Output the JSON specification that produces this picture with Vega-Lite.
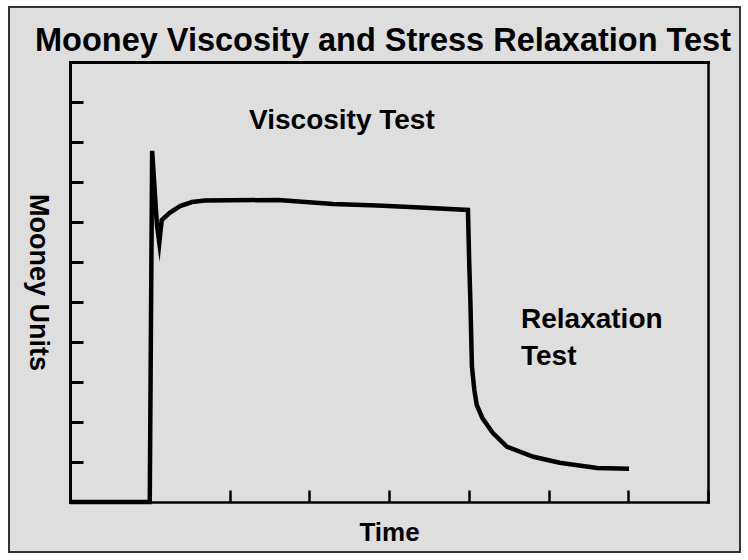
{
  "$schema": "https://vega.github.io/schema/vega-lite/v6.json",
  "width": 731,
  "height": 545,
  "autosize": {"type": "none"},
  "padding": {"left": 9, "top": 7, "right": 8, "bottom": 8},
  "background": "white",
  "view": {"fill": "#dedede", "stroke": "#333333", "strokeWidth": 2},
  "layer": [
    {
      "data": {
        "values": [
          {"t": 0, "time": 0, "mu": 0},
          {"t": 1, "time": 1.0, "mu": 0},
          {"t": 2, "time": 1.03, "mu": 8.78},
          {"t": 3, "time": 1.09, "mu": 6.93},
          {"t": 4, "time": 1.12, "mu": 6.48},
          {"t": 5, "time": 1.15, "mu": 7.05},
          {"t": 6, "time": 1.25, "mu": 7.23},
          {"t": 7, "time": 1.38, "mu": 7.4},
          {"t": 8, "time": 1.53, "mu": 7.5},
          {"t": 9, "time": 1.69, "mu": 7.54},
          {"t": 10, "time": 2.61, "mu": 7.55},
          {"t": 11, "time": 3.3, "mu": 7.45},
          {"t": 12, "time": 3.85, "mu": 7.41},
          {"t": 13, "time": 4.39, "mu": 7.36},
          {"t": 14, "time": 4.99, "mu": 7.3},
          {"t": 15, "time": 5.005, "mu": 6.05},
          {"t": 16, "time": 5.02, "mu": 5.05},
          {"t": 17, "time": 5.04, "mu": 3.38},
          {"t": 18, "time": 5.07, "mu": 2.8},
          {"t": 19, "time": 5.1, "mu": 2.43},
          {"t": 20, "time": 5.17, "mu": 2.1},
          {"t": 21, "time": 5.3, "mu": 1.73},
          {"t": 22, "time": 5.48, "mu": 1.38},
          {"t": 23, "time": 5.81, "mu": 1.13},
          {"t": 24, "time": 6.14, "mu": 0.98},
          {"t": 25, "time": 6.61, "mu": 0.85},
          {"t": 26, "time": 7.01, "mu": 0.83}
        ]
      },
      "mark": {"type": "line", "color": "black", "strokeWidth": 4.5, "strokeJoin": "miter", "strokeMiterLimit": 10},
      "encoding": {
        "x": {
          "field": "time", "type": "quantitative",
          "scale": {"domain": [0, 8], "range": [61, 699], "nice": false, "zero": false},
          "axis": {
            "orient": "bottom", "offset": -50, "values": [0, 1, 2, 3, 4, 5, 6, 7, 8],
            "labels": false, "grid": false, "tickSize": -12, "tickWidth": 2.5, "tickColor": "black",
            "domainColor": "black", "domainWidth": 2.5, "domainCap": "square",
            "title": "Time", "titleFont": "Liberation Sans", "titleFontSize": 26, "titleFontWeight": "bold",
            "titleColor": "black", "titleBaseline": "top", "titlePadding": 16
          }
        },
        "y": {
          "field": "mu", "type": "quantitative",
          "scale": {"domain": [0, 11], "range": [495, 55], "nice": false, "zero": false},
          "axis": {
            "orient": "left", "offset": -61, "values": [0, 1, 2, 3, 4, 5, 6, 7, 8, 9, 10, 11],
            "labels": false, "grid": false, "tickSize": -13, "tickWidth": 3, "tickColor": "black",
            "domainColor": "black", "domainWidth": 3, "domainCap": "square",
            "title": "Mooney Units", "titleFont": "Liberation Sans", "titleFontSize": 27, "titleFontWeight": "bold",
            "titleColor": "black", "titleAngle": 90, "titleBaseline": "top", "titlePadding": 18
          }
        },
        "order": {"field": "t", "type": "quantitative"}
      }
    },
    {
      "data": {
        "values": [
          {"label": "Viscosity Test", "time": 2.245, "mu": 9.325},
          {"label": "Relaxation", "time": 5.655, "mu": 4.35},
          {"label": "Test", "time": 5.655, "mu": 3.425}
        ]
      },
      "mark": {"type": "text", "font": "Liberation Sans", "fontSize": 28, "fontWeight": "bold", "color": "black", "align": "left", "baseline": "alphabetic"},
      "encoding": {
        "x": {
          "field": "time", "type": "quantitative",
          "scale": {"domain": [0, 8], "range": [61, 699], "nice": false, "zero": false},
          "axis": {"orient": "top", "offset": -55, "labels": false, "ticks": false, "grid": false, "domainColor": "black", "domainWidth": 3, "domainCap": "square", "title": null}
        },
        "y": {
          "field": "mu", "type": "quantitative",
          "scale": {"domain": [0, 11], "range": [495, 55], "nice": false, "zero": false},
          "axis": {"orient": "right", "offset": -32, "labels": false, "ticks": false, "grid": false, "domainColor": "black", "domainWidth": 2.5, "domainCap": "square", "title": null}
        },
        "text": {"field": "label", "type": "nominal"}
      }
    },
    {
      "data": {
        "values": [
          {"label": "Mooney Viscosity and Stress Relaxation Test", "time": 3.925, "mu": 11.275}
        ]
      },
      "mark": {"type": "text", "font": "Liberation Sans", "fontSize": 32.5, "fontWeight": "bold", "color": "black", "align": "center", "baseline": "alphabetic"},
      "encoding": {
        "x": {"field": "time", "type": "quantitative", "scale": {"domain": [0, 8], "range": [61, 699], "nice": false, "zero": false}, "axis": null},
        "y": {"field": "mu", "type": "quantitative", "scale": {"domain": [0, 11], "range": [495, 55], "nice": false, "zero": false}, "axis": null},
        "text": {"field": "label", "type": "nominal"}
      }
    }
  ],
  "resolve": {"axis": {"x": "independent", "y": "independent"}}
}
